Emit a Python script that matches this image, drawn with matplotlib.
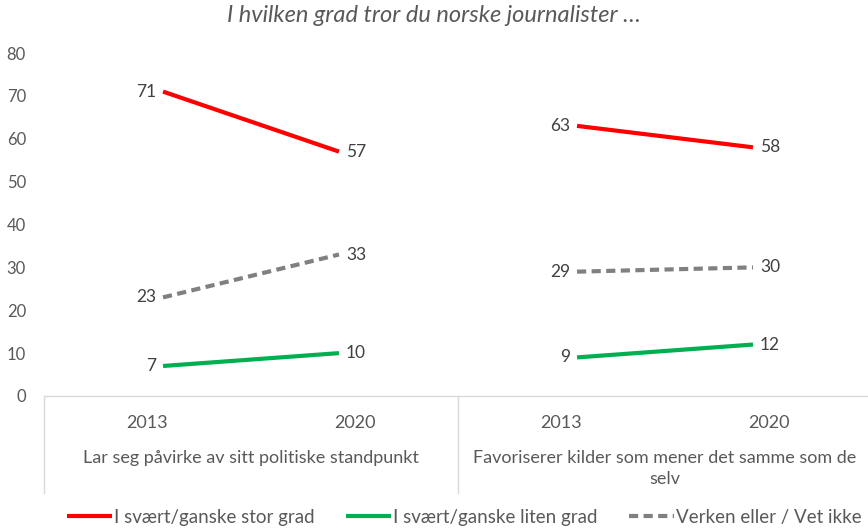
import matplotlib.pyplot as plt

plt.rcParams['font.family'] = ['Lato', 'DejaVu Sans']

# data
groups = ['Lar seg påvirke av sitt politiske standpunkt',
          'Favoriserer kilder som mener det samme som de\nselv']
years = ['2013', '2020']
stor = [[71, 57], [63, 58]]
liten = [[7, 10], [9, 12]]
verken = [[23, 33], [29, 30]]

series = [
    ('I svært/ganske stor grad', stor, '#FF0000', '-'),
    ('I svært/ganske liten grad', liten, '#00B050', '-'),
    ('Verken eller / Vet ikke', verken, '#808080', '--'),
]

txt = '#595959'
lbl = '#404040'
inset = 0.075

fig = plt.figure(figsize=(8.68, 5.29), dpi=100)
ax = fig.add_axes([44 / 868, 133 / 529, 828 / 868, 343 / 529])

for name, vals, color, ls in series:
    for g, pair in enumerate(vals):
        xs = [2 * g + inset, 2 * g + 1 - inset]
        line, = ax.plot(xs, pair, color=color, lw=3, ls=ls,
                        solid_capstyle='butt', dash_capstyle='butt',
                        label=name if g == 0 else None)
        if ls == '--':
            line.set_dashes((2.2, 1.3))
        ax.annotate(str(pair[0]), (xs[0], pair[0]), xytext=(-5, 0),
                    textcoords='offset points', ha='right', va='center',
                    fontsize=12.5, color=lbl)
        ax.annotate(str(pair[1]), (xs[1], pair[1]), xytext=(5, 0),
                    textcoords='offset points', ha='left', va='center',
                    fontsize=12.5, color=lbl)

ax.set_xlim(-0.5, 2 * len(groups) - 0.5)
ax.set_ylim(0, 80)
ax.set_yticks(range(0, 81, 10))
ax.set_xticks(range(2 * len(groups)))
ax.set_xticklabels(years * len(groups))
ax.tick_params(axis='y', length=0, pad=13, labelsize=12, labelcolor=txt)
ax.tick_params(axis='x', length=0, pad=14, labelsize=13, labelcolor=txt)

for s in ['top', 'right', 'left']:
    ax.spines[s].set_visible(False)
ax.spines['bottom'].set_color('#D9D9D9')
ax.spines['bottom'].set_linewidth(1)

# group separators and group labels
trans = ax.get_xaxis_transform()
for b in range(len(groups) + 1):
    ax.plot([2 * b - 0.5] * 2, [0, -0.283], transform=trans, color='#D9D9D9',
            lw=1, clip_on=False)
for g, name in enumerate(groups):
    ax.text(2 * g + 0.5, -0.157, name, transform=trans, ha='center', va='top',
            fontsize=13, color=txt, linespacing=1.4)

fig.text(0.5, 1 - 15 / 529, 'I hvilken grad tror du norske journalister …',
         ha='center', va='center', fontsize=17, style='italic', color=txt)

fig.legend(loc='center', bbox_to_anchor=(0.535, 12 / 529), ncol=3, frameon=False,
           fontsize=13.5, labelcolor=txt, handlelength=2.4, handletextpad=0.1,
           columnspacing=1.7)

fig.savefig('out.png', dpi=100)
